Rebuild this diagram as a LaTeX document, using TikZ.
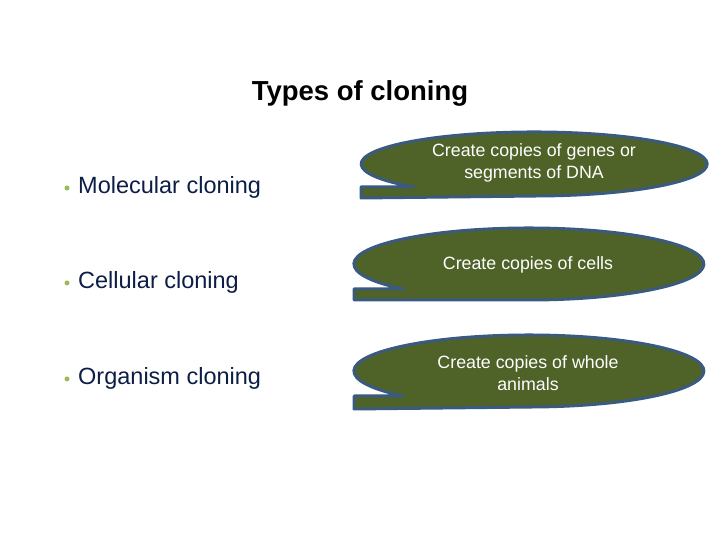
\documentclass[tikz,border=0pt]{standalone}
\usepackage{fontspec}
\setmainfont{Liberation Sans}
\definecolor{olivefill}{HTML}{4F6228}
\definecolor{calloutedge}{HTML}{3B5A80}
\definecolor{navytext}{HTML}{0C1E45}
\definecolor{bulletgreen}{HTML}{9BBB59}
\tikzset{
  callout/.style={fill=olivefill, draw=calloutedge, line width=3pt, line join=round},
  callouttext/.style={text=white, font=\fontsize{17.8}{22}\selectfont, align=center},
  item/.style={anchor=west, text=navytext, font=\fontsize{23.5}{28}\selectfont, inner sep=0pt},
  dotmark/.style={circle, fill=bulletgreen, inner sep=0pt, minimum size=5pt},
  titlestyle/.style={font=\fontsize{27.5}{32}\selectfont\bfseries, text=black}
}
\begin{document}
\begin{tikzpicture}[x=1pt,y=1pt]
\useasboundingbox (0,0) rectangle (720,540);
% title
\node[titlestyle] (title) at (360,447) {Types of cloning};
% bullets
\node[dotmark] (d1) at (67,352) {};
\node[item] (i1) at (78,353) {Molecular cloning};
\node[dotmark] (d2) at (67,257) {};
\node[item] (i2) at (78,258) {Cellular cloning};
\node[dotmark] (d3) at (67,161) {};
\node[item] (i3) at (78,162) {Organism cloning};
% callout 1
\draw[callout] (361,342) -- (361,353) -- (414,353)
  arc[start angle=226, end angle=-88, x radius=173, y radius=32] -- cycle;
\node[callouttext] (c1) at (534,377) {Create copies of genes or\\segments of DNA};
% callout 2
\draw[callout] (354,240) -- (354,251) -- (403,251)
  arc[start angle=224, end angle=-88, x radius=175, y radius=36] -- cycle;
\node[callouttext] (c2) at (528,275) {Create copies of cells};
% callout 3
\draw[callout] (354,131) -- (354,144) -- (403,144)
  arc[start angle=224, end angle=-88, x radius=175, y radius=36] -- cycle;
\node[callouttext] (c3) at (528,167) {Create copies of whole\\animals};
\end{tikzpicture}
\end{document}
